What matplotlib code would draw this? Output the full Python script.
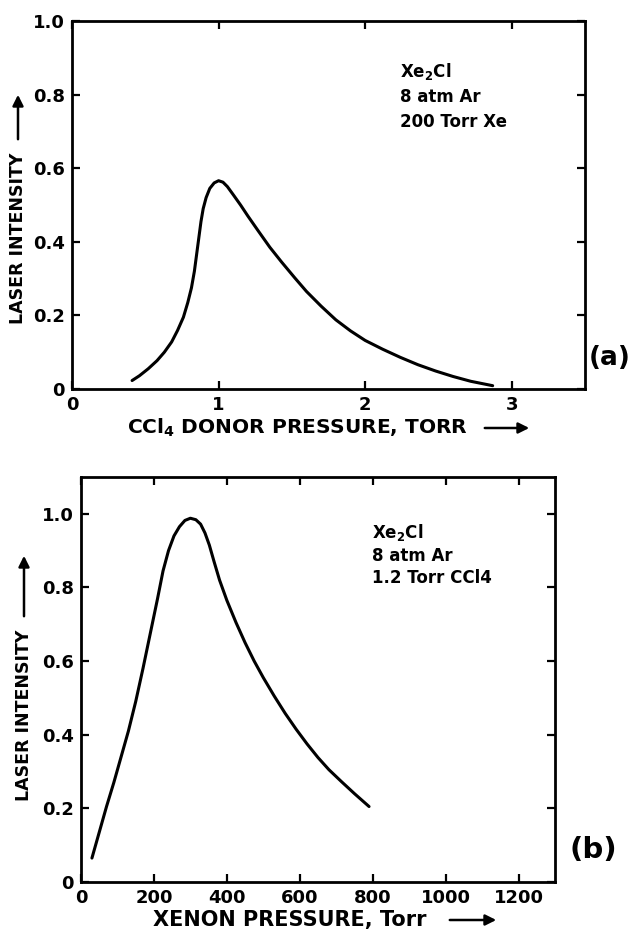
import matplotlib
matplotlib.use("Agg")
import matplotlib.pyplot as plt
from matplotlib.patches import FancyArrowPatch

# ---- data ----
ccl4_pressure = [0.41, 0.46, 0.52, 0.58, 0.63, 0.68, 0.72, 0.76, 0.79, 0.815, 0.835, 0.85,
                 0.865, 0.88, 0.895, 0.915, 0.94, 0.97, 1.00, 1.03, 1.06, 1.10, 1.15, 1.20,
                 1.27, 1.35, 1.43, 1.52, 1.60, 1.70, 1.80, 1.90, 2.00, 2.12, 2.24, 2.36,
                 2.48, 2.60, 2.72, 2.87]
intensity_a = [0.023, 0.036, 0.055, 0.077, 0.100, 0.128, 0.159, 0.195, 0.235, 0.275, 0.320, 0.365,
               0.410, 0.455, 0.490, 0.520, 0.545, 0.560, 0.566, 0.562, 0.550, 0.528, 0.500, 0.470,
               0.430, 0.385, 0.345, 0.302, 0.265, 0.225, 0.188, 0.158, 0.132, 0.108, 0.086, 0.066,
               0.049, 0.034, 0.021, 0.009]

xenon_pressure = [30, 50, 70, 90, 110, 130, 150, 170, 190, 210, 225, 240, 255, 270, 285, 300,
                  315, 328, 340, 352, 365, 380, 400, 425, 450, 475, 500, 530, 560, 590, 620,
                  650, 680, 715, 750, 790]
intensity_b = [0.065, 0.135, 0.205, 0.270, 0.340, 0.410, 0.490, 0.580, 0.675, 0.770, 0.845, 0.900,
               0.940, 0.965, 0.982, 0.988, 0.984, 0.972, 0.948, 0.915, 0.870, 0.820, 0.765, 0.705,
               0.650, 0.600, 0.555, 0.505, 0.458, 0.415, 0.375, 0.338, 0.305, 0.272, 0.240, 0.205]

xticks_a = [0, 1, 2, 3]
xticklabels_a = ["0", "1", "2", "3"]
yticks = [0, 0.2, 0.4, 0.6, 0.8, 1.0]
yticklabels = ["0", "0.2", "0.4", "0.6", "0.8", "1.0"]
xticks_b = [0, 200, 400, 600, 800, 1000, 1200]
xticklabels_b = ["0", "200", "400", "600", "800", "1000", "1200"]

notes_a = [r"Xe$_{\mathbf{2}}$Cl", "8 atm Ar", "200 Torr Xe"]
notes_b = [r"Xe$_{\mathbf{2}}$Cl", "8 atm Ar", "1.2 Torr CCl4"]

# ---- figure ----
W, H = 631, 930
plt.rcParams["font.family"] = ["DejaVu Sans"]
plt.rcParams["font.weight"] = "bold"
plt.rcParams["mathtext.default"] = "bf"
fig = plt.figure(figsize=(W / 100, H / 100), dpi=100)
fig.patch.set_facecolor("white")


def P(x, y):
    return (x / W, 1 - y / H)


def axes_px(left, top, right, bottom):
    return fig.add_axes([left / W, 1 - bottom / H, (right - left) / W, (bottom - top) / H])


def style(ax):
    for s in ax.spines.values():
        s.set_linewidth(2.0)
    ax.tick_params(direction="in", length=6, width=1.6, top=True, right=True,
                   labelsize=13, pad=5)
    for lab in ax.get_xticklabels() + ax.get_yticklabels():
        lab.set_fontweight("bold")


def arrow(x0, y0, x1, y1):
    a = FancyArrowPatch(P(x0, y0), P(x1, y1), transform=fig.transFigure,
                        arrowstyle="-|>", mutation_scale=16, lw=1.8, color="black")
    fig.add_artist(a)


# panel (a)
ax1 = axes_px(72, 21, 585, 389)
ax1.plot(ccl4_pressure, intensity_a, color="black", lw=2.2, solid_capstyle="round",
         solid_joinstyle="round")
ax1.set_xlim(0, 3.5)
ax1.set_ylim(0, 1.0)
ax1.set_xticks(xticks_a, xticklabels_a)
ax1.set_yticks(yticks, yticklabels)
style(ax1)

for i, t in enumerate(notes_a):
    fig.text(*P(400, 77 + 25 * i), t, fontsize=12, fontweight="bold", ha="left", va="baseline")

fig.text(*P(297, 428), r"CCl$_{\mathbf{4}}$ DONOR PRESSURE, TORR", fontsize=14.5,
         fontweight="bold", ha="center", va="center")
arrow(482, 428, 532, 428)
fig.text(*P(18, 238), "LASER INTENSITY", fontsize=12.5, fontweight="bold",
         rotation=90, ha="center", va="center")
arrow(18, 142, 18, 92)
fig.text(*P(610, 358), "(a)", fontsize=19, fontweight="bold", ha="center", va="center")

# panel (b)
ax2 = axes_px(81, 477, 555, 882)
ax2.plot(xenon_pressure, intensity_b, color="black", lw=2.2, solid_capstyle="round",
         solid_joinstyle="round")
ax2.set_xlim(0, 1300)
ax2.set_ylim(0, 1.1)
ax2.set_xticks(xticks_b, xticklabels_b)
ax2.set_yticks(yticks, yticklabels)
style(ax2)

for i, (t, yb) in enumerate(zip(notes_b, [538, 561, 583])):
    fig.text(*P(372, yb), t, fontsize=12, fontweight="bold", ha="left", va="baseline")

fig.text(*P(290, 920), "XENON PRESSURE, Torr", fontsize=15, fontweight="bold",
         ha="center", va="center")
arrow(447, 920, 499, 920)
fig.text(*P(24, 715), "LASER INTENSITY", fontsize=12.5, fontweight="bold",
         rotation=90, ha="center", va="center")
arrow(24, 619, 24, 553)
fig.text(*P(593, 850), "(b)", fontsize=21, fontweight="bold", ha="center", va="center")

fig.savefig("out.png", dpi=100, facecolor="white")
